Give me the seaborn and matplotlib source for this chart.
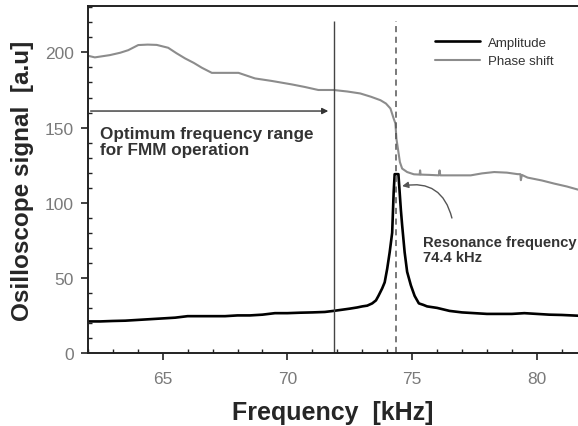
import numpy as np
import pandas as pd
import matplotlib
matplotlib.use("Agg")
import matplotlib.pyplot as plt
import seaborn as sns
from matplotlib.ticker import MultipleLocator

# amplitude trace (kHz, a.u.)
amp_freq = [62.0, 62.5, 63.0, 63.5, 64.0, 64.5, 65.0, 65.5, 66.0, 66.5, 67.0, 67.5,
            68.0, 68.5, 69.0, 69.5, 70.0, 70.5, 71.0, 71.5, 71.85, 72.2, 72.5, 72.8,
            73.0, 73.2, 73.4, 73.55, 73.65, 73.8, 73.9, 74.0, 74.1, 74.2, 74.26, 74.3,
            74.45, 74.5, 74.55, 74.6, 74.7, 74.8, 74.95, 75.1, 75.27, 75.45, 75.6,
            75.8, 76.0, 76.5, 77.0, 77.5, 78.0, 78.5, 79.0, 79.5, 80.0, 80.5, 81.0, 81.65]
amp_val = [21.0, 21.0, 21.3, 21.5, 22.0, 22.5, 23.0, 23.5, 24.5, 24.5, 24.5, 24.5,
           25.0, 25.0, 25.5, 26.5, 26.5, 26.8, 27.0, 27.3, 28.0, 28.8, 29.5, 30.3,
           31.0, 31.5, 33.0, 35.0, 38.0, 43.0, 47.0, 56.0, 67.0, 80.0, 107.0, 119.0,
           119.0, 107.0, 95.0, 85.0, 67.0, 54.0, 45.0, 38.0, 33.0, 32.0, 31.0,
           30.5, 30.0, 28.0, 27.0, 26.5, 26.0, 26.0, 26.0, 26.5, 26.0, 25.5, 25.3, 24.8]

# phase shift trace
ph_freq = [62.0, 62.28, 62.88, 63.3, 63.62, 64.02, 64.4, 64.76, 65.22, 65.55, 65.9,
           66.25, 66.57, 66.97, 67.5, 68.04, 68.7, 69.38, 70.18, 70.7, 71.24, 71.85,
           72.4, 72.92, 73.35, 73.73, 73.95, 74.13, 74.26, 74.33, 74.37, 74.43, 74.51,
           74.6, 74.8, 75.07, 75.3, 75.32, 75.34, 75.7, 76.07, 76.1, 76.13, 76.7,
           77.35, 77.8, 78.29, 78.8, 79.23, 79.34, 79.36, 79.4, 79.63, 80.2, 80.7,
           81.2, 81.65]
ph_val = [197.8, 196.7, 198.2, 199.8, 201.5, 204.9, 205.2, 205.0, 203.1, 199.5, 196.0,
          193.0, 189.8, 186.4, 186.4, 186.4, 182.7, 181.0, 178.7, 177.0, 175.0, 175.0,
          174.0, 172.7, 170.5, 168.2, 166.0, 162.7, 156.0, 152.7, 142.7, 136.0, 127.0,
          122.7, 120.4, 118.9, 118.7, 121.5, 118.7, 118.5, 118.2, 121.5, 118.2, 118.2,
          118.2, 119.5, 120.4, 120.0, 119.0, 119.0, 115.0, 118.5, 116.7, 114.8, 112.7,
          110.8, 108.7]

f_opt = 71.85
f_res = 74.36

amp = pd.DataFrame({"Frequency": amp_freq, "Signal": amp_val})
phase = pd.DataFrame({"Frequency": ph_freq, "Signal": ph_val})

sns.set_style("ticks")
plt.rcParams["font.family"] = ["Liberation Sans", "DejaVu Sans"]

fig = plt.figure(figsize=(5.78, 4.27), dpi=100)
ax = fig.add_axes([0.152, 0.171, 0.848, 0.813])

sns.lineplot(data=amp, x="Frequency", y="Signal", ax=ax, color="black", lw=1.9,
             label="Amplitude")
sns.lineplot(data=phase, x="Frequency", y="Signal", ax=ax, color="#8c8c8c", lw=1.5,
             label="Phase shift")

ax.vlines(f_opt, 0, 221, color="#444444", lw=1.0)
ax.vlines(f_res, 0, 221, color="#555555", lw=1.1, linestyles=(0, (4, 3)))

ax.annotate("", xy=(f_opt - 0.1, 161), xytext=(62.0, 161),
            arrowprops=dict(arrowstyle="-|>", color="#333333", lw=1.0, mutation_scale=9))
ax.text(62.5, 140.5, "Optimum frequency range\nfor FMM operation", fontsize=12.3,
        fontweight="bold", color="#333333", va="center", ha="left", linespacing=1.1)

ax.annotate("", xy=(74.49, 110.7), xytext=(76.62, 88),
            arrowprops=dict(arrowstyle="-|>", color="#555555", lw=1.0, mutation_scale=9,
                            connectionstyle="arc3,rad=0.5"))
ax.text(75.45, 69, "Resonance frequency\n74.4 kHz", fontsize=10.6, fontweight="bold",
        color="#333333", va="center", ha="left", linespacing=1.05)

ax.set_xlim(62, 81.65)
ax.set_ylim(0, 231)
ax.xaxis.set_major_locator(MultipleLocator(5))
ax.xaxis.set_minor_locator(MultipleLocator(1))
ax.yaxis.set_major_locator(MultipleLocator(50))
ax.yaxis.set_minor_locator(MultipleLocator(10))
ax.tick_params(which="major", direction="out", length=5, width=1.2,
               labelsize=12.5, labelcolor="#7a7a7a", color="#222222")
ax.tick_params(axis="x", which="major", pad=8)
ax.tick_params(axis="y", which="major", pad=5)
ax.tick_params(which="minor", direction="in", length=3, width=1.0, color="#222222")

for s in ["left", "bottom", "top"]:
    ax.spines[s].set_visible(True)
    ax.spines[s].set_linewidth(1.4)
    ax.spines[s].set_color("#222222")
ax.spines["right"].set_visible(False)

ax.set_xlabel("Frequency  [kHz]", fontsize=18, fontweight="bold", labelpad=10)
ax.set_ylabel("Osilloscope signal  [a.u]", fontsize=17.5, fontweight="bold", labelpad=8)

ax.legend(loc="upper right", bbox_to_anchor=(0.975, 0.945), frameon=False, fontsize=9.5,
          handlelength=3.4, handletextpad=0.6, labelspacing=0.45, labelcolor="#333333")

fig.savefig("out.png", dpi=100)
